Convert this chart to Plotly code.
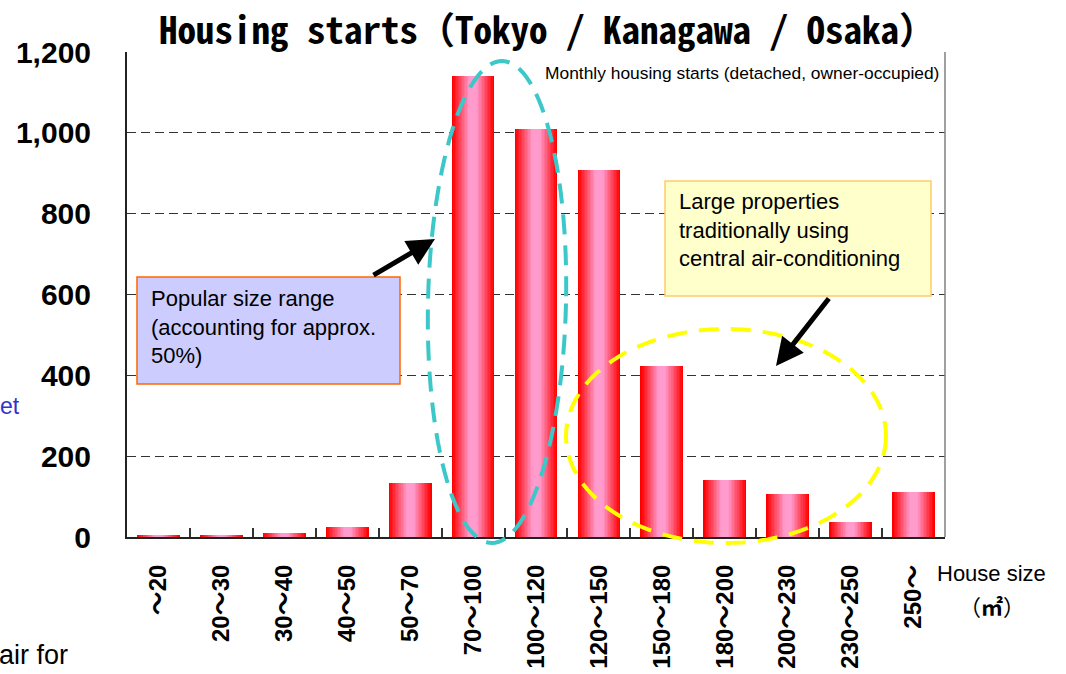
import numpy as np
import plotly.graph_objects as go

# ---- data ----
categories = ["～20", "20～30", "30～40", "40～50", "50～70", "70～100", "100～120",
              "120～150", "150～180", "180～200", "200～230", "230～250", "250～"]
values = [6, 3, 9, 24, 133, 1140, 1009, 909, 423, 141, 106, 37, 111]
y_ticks = [0, 200, 400, 600, 800, 1000, 1200]

title_text = "Housing starts（Tokyo / Kanagawa / Osaka）"
note_text = "Monthly housing starts (detached, owner-occupied)"
box1_text = "Popular size range<br>(accounting for approx.<br>50%)"
box2_text = "Large properties<br>traditionally using<br>central air-conditioning"

# ---- layout geometry (pixels) ----
W, H = 1066, 674
L, R, T, B = 127, 945, 52, 537
PW, PH = R - L, B - T


def px(x):
    return (x - L) / PW


def py(y):
    return (B - y) / PH


FONT = "Liberation Sans, Arial, Noto Sans CJK JP, sans-serif"
CJK = "Noto Sans Mono CJK JP, Noto Sans CJK JP, sans-serif"

fig = go.Figure()

# gradient bars: overlayed bars of decreasing width (red edges -> pink center)
red = np.array([255, 0, 0])
pink = np.array([255, 155, 205])
N = 14
base_w = 0.68
for i in range(N):
    t = min(1.0, i / (N * 0.8))
    c = red + (pink - red) * t
    col = "rgb(%d,%d,%d)" % tuple(c.round().astype(int))
    w = base_w * (1 - i / N)
    fig.add_trace(go.Bar(x=categories, y=values, width=w,
                         marker=dict(color=col, line=dict(width=0)),
                         showlegend=False, hoverinfo="skip" if i else None))

shapes = []
# right border line
shapes.append(dict(type="line", xref="paper", yref="paper", x0=1, x1=1, y0=0, y1=1,
                    line=dict(color="#808080", width=1.5), layer="above"))


def ellipse_path(cx, cy, rx, ry, phi_deg):
    phi = np.radians(phi_deg)
    t = np.linspace(0, 2 * np.pi, 121)
    xs = cx + rx * np.cos(t) * np.cos(phi) - ry * np.sin(t) * np.sin(phi)
    ys = cy + rx * np.cos(t) * np.sin(phi) + ry * np.sin(t) * np.cos(phi)
    pts = ["%.5f,%.5f" % (px(a), py(b)) for a, b in zip(xs, ys)]
    return "M " + " L ".join(pts) + " Z"


shapes.append(dict(type="path", xref="paper", yref="paper",
                   path=ellipse_path(497, 302, 69, 241, 1.3),
                   line=dict(color="#3CC8C8", width=4, dash="20px,11px"), layer="above"))
shapes.append(dict(type="path", xref="paper", yref="paper",
                   path=ellipse_path(726, 436, 160, 107, 0),
                   line=dict(color="#FFFF00", width=4, dash="20px,12px"), layer="above"))

# annotation boxes
shapes.append(dict(type="rect", xref="paper", yref="paper",
                   x0=px(137), x1=px(400), y0=py(384), y1=py(277),
                   fillcolor="#CCCCFF", line=dict(color="#FF6600", width=1.5), layer="above"))
shapes.append(dict(type="rect", xref="paper", yref="paper",
                   x0=px(665), x1=px(931), y0=py(296), y1=py(181),
                   fillcolor="#FFFFCC", line=dict(color="#FFCC66", width=1.5), layer="above"))

# small blue arc remnant at top-left
shapes.append(dict(type="circle", xref="paper", yref="paper",
                   x0=px(-30), x1=px(4), y0=py(4), y1=py(-30),
                   line=dict(color="#3F6FE0", width=3), layer="above"))

annotations = []
# arrows
annotations.append(dict(xref="paper", yref="paper", x=px(435), y=py(239),
                        ax=372 - 435, ay=276 - 239, text="",
                        showarrow=True, arrowhead=2, arrowsize=1.1, arrowwidth=5,
                        arrowcolor="black"))
annotations.append(dict(xref="paper", yref="paper", x=px(776), y=py(366),
                        ax=830 - 776, ay=297 - 366, text="",
                        showarrow=True, arrowhead=2, arrowsize=1.1, arrowwidth=5,
                        arrowcolor="black"))

annotations.append(dict(xref="paper", yref="paper", x=px(149), y=py(326.5),
                        xanchor="left", yanchor="middle", align="left",
                        text=box1_text, showarrow=False,
                        font=dict(family=FONT, size=22, color="black")))
annotations.append(dict(xref="paper", yref="paper", x=px(677), y=py(230),
                        xanchor="left", yanchor="middle", align="left",
                        text=box2_text, showarrow=False,
                        font=dict(family=FONT, size=22, color="black")))
annotations.append(dict(xref="paper", yref="paper", x=px(941), y=py(73),
                        xanchor="right", yanchor="middle",
                        text=note_text, showarrow=False,
                        font=dict(family=FONT, size=17.4, color="black")))
annotations.append(dict(xref="paper", yref="paper", x=px(991), y=py(573),
                        xanchor="center", yanchor="middle",
                        text="House size", showarrow=False,
                        font=dict(family=FONT, size=22, color="black")))
annotations.append(dict(xref="paper", yref="paper", x=px(992), y=py(605),
                        xanchor="center", yanchor="middle",
                        text="（<b>㎡</b>）", showarrow=False,
                        font=dict(family="Noto Sans CJK JP, sans-serif", size=22, color="black")))
# slide text remnants at the left edge
annotations.append(dict(xref="paper", yref="paper", x=px(-2), y=py(406),
                        xanchor="left", yanchor="middle",
                        text="et", showarrow=False,
                        font=dict(family=FONT, size=23, color="#3333CC")))
annotations.append(dict(xref="paper", yref="paper", x=px(-3), y=py(655),
                        xanchor="left", yanchor="middle",
                        text="air for", showarrow=False,
                        font=dict(family=FONT, size=27, color="black")))

fig.update_layout(
    width=W, height=H,
    margin=dict(l=L, r=W - R, t=T, b=H - B, pad=0),
    paper_bgcolor="white", plot_bgcolor="white",
    barmode="overlay",
    bargap=0,
    title=dict(text="<b>" + title_text + "</b>", xref="container", yref="container",
               x=547.5 / W, y=1 - 31 / H, xanchor="center", yanchor="middle",
               font=dict(family=CJK, size=37, color="black")),
    shapes=shapes,
    annotations=annotations,
    showlegend=False,
)

fig.update_xaxes(
    type="category", categoryorder="array", categoryarray=categories,
    showline=True, linecolor="#222", linewidth=2, mirror=False,
    ticks="inside", tickson="boundaries", ticklen=9, tickcolor="#333", tickwidth=1.5,
    tickangle=-90, ticklabelstandoff=16,
    tickfont=dict(family=FONT, size=24, color="black", weight="bold"),
    showgrid=False, zeroline=False, automargin=False,
)
fig.update_yaxes(
    range=[0, 1200], tickvals=y_ticks, tickformat=",",
    showline=True, linecolor="#222", linewidth=2, mirror=False,
    ticks="", ticklabelstandoff=28,
    tickfont=dict(family=FONT, size=30, color="black", weight="bold"),
    showgrid=True, gridcolor="#333", gridwidth=1, griddash="9px,5px",
    zeroline=False, automargin=False,
)

fig.write_html("out.html", config={"displayModeBar": False})

# remove the browser's default page margin so the figure sits at (0, 0)
with open("out.html", "r", encoding="utf-8") as f:
    html = f.read()
html = html.replace("<head>", "<head><style>html,body{margin:0;padding:0;overflow:hidden;}</style>", 1)
with open("out.html", "w", encoding="utf-8") as f:
    f.write(html)
